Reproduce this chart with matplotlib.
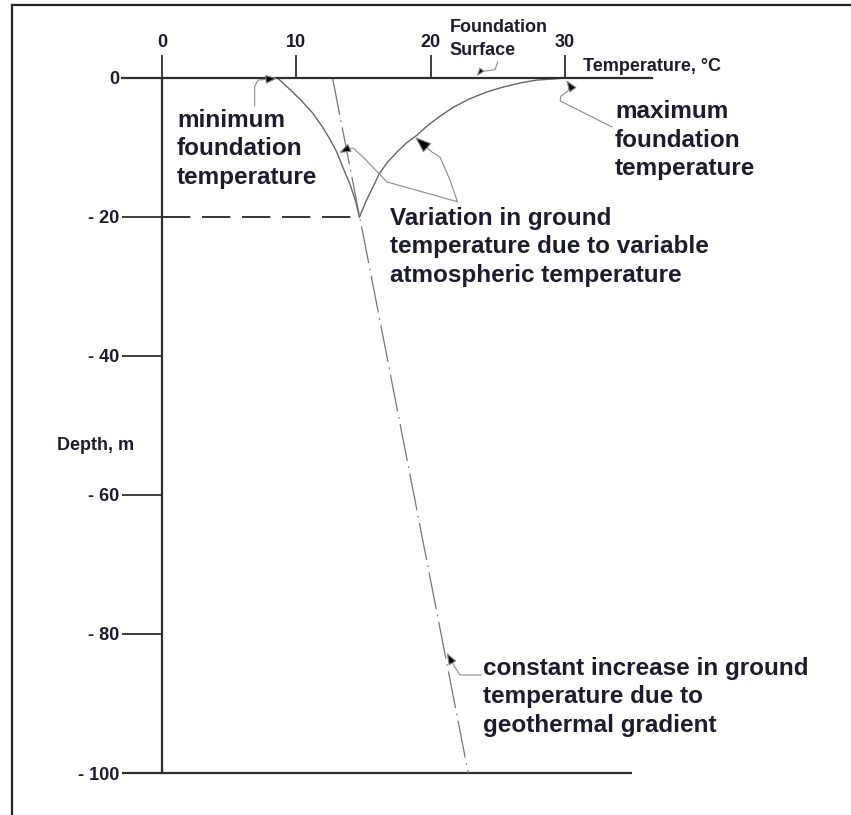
import matplotlib.pyplot as plt
from matplotlib.patches import FancyArrowPatch
from matplotlib.path import Path
from matplotlib.lines import Line2D

plt.rcParams['font.family'] = ['Liberation Sans', 'DejaVu Sans']
plt.rcParams['font.weight'] = 'bold'

# axes ticks
temp_ticks = [0, 10, 20, 30]
depth_ticks = [0, -20, -40, -60, -80, -100]
depth_labels = ['0', '- 20', '- 40', '- 60', '- 80', '- 100']

# minimum foundation temperature envelope (deg C vs depth m)
min_temp = [8.6, 9.5, 10.4, 11.2, 11.9, 12.5, 13.0, 13.5, 14.0, 14.4, 14.7]
min_depth = [0, -1.6, -3.3, -5.0, -6.9, -8.8, -10.6, -13.0, -15.3, -17.6, -20]

# maximum foundation temperature envelope
max_temp = [14.7, 15.2, 15.7, 16.2, 16.8, 17.5, 18.2, 19.0, 19.8, 20.7, 21.7,
            22.9, 24.2, 25.4, 26.7, 27.9, 29.1, 30.0]
max_depth = [-20, -17.7, -15.7, -13.7, -12.1, -10.65, -9.35, -8.2, -6.8, -5.5, -4.2,
             -3.0, -2.0, -1.3, -0.7, -0.3, -0.14, 0]

# geothermal gradient
geo_temp = [12.7, 22.8]
geo_depth = [0, -100]

# depth reached by the seasonal variation
seasonal_depth = -20

TEXT = '#1c1c30'
LINE = '#2e2e2e'
CURVE = '#666666'
LEADER = '#8c8c8c'

W, H = 851, 815
sx, sy = 13.43, 6.95   # pixels per degree / per metre
x0, y0 = 162, 78       # pixel position of the origin

fig = plt.figure(figsize=(W / 100, H / 100), dpi=100)
ax = fig.add_axes([0, 0, 1, 1])
ax.set_xlim(-x0 / sx, (W - x0) / sx)
ax.set_ylim(-(H - y0) / sy, y0 / sy)

ax.spines['bottom'].set_visible(False)
ax.spines['right'].set_visible(False)
ax.spines['top'].set_position(('data', 0))
ax.spines['top'].set_bounds(-3.0, 36.5)
ax.spines['left'].set_position(('data', 0))
ax.spines['left'].set_bounds(-100, 0)
for s in ['top', 'left']:
    ax.spines[s].set_color(LINE)
    ax.spines[s].set_linewidth(1.6)

ax.xaxis.set_ticks_position('top')
ax.set_xticks(temp_ticks)
ax.set_xticklabels([str(t) for t in temp_ticks])
ax.set_yticks(depth_ticks)
ax.set_yticklabels(depth_labels)
ax.tick_params(axis='x', direction='out', length=16.5, width=1.3, color=LINE,
               pad=3, labelsize=13, labelcolor=TEXT)
ax.tick_params(axis='y', direction='out', length=29, width=1.3, color=LINE,
               pad=1.5, labelsize=13, labelcolor=TEXT)

# bottom line at -100 m
ax.plot([-3.0, 35.0], [depth_ticks[-1]] * 2, color=LINE, lw=1.6, solid_capstyle='butt')

# curves
ax.plot(min_temp, min_depth, color=CURVE, lw=1.0)
ax.plot(max_temp, max_depth, color=CURVE, lw=1.0)
ax.plot(geo_temp, geo_depth, color='#777777', lw=0.9, linestyle=(0, (30, 4.5, 1.3, 4.5)))
ax.plot([0, min_temp[-1]], [seasonal_depth] * 2, color='#111111', lw=1.2,
        linestyle=(0, (17, 7)))

# outer frame (top and left only)
fig.add_artist(Line2D([12 / W, 12 / W], [0, 1 - 5 / H], transform=fig.transFigure,
                      color='#222222', lw=1.6))
fig.add_artist(Line2D([12 / W, 1], [1 - 5 / H, 1 - 5 / H], transform=fig.transFigure,
                      color='#222222', lw=1.6))


def leader(pts, scale=9):
    arrow = FancyArrowPatch(path=Path(pts), arrowstyle='-|>,head_length=0.8,head_width=0.3',
                            mutation_scale=scale, ec=LEADER, fc='black', lw=0.8,
                            transform=ax.transData, zorder=3)
    ax.add_patch(arrow)


def block(x, y, lines, step=4.1, size=17.5):
    for i, line in enumerate(lines):
        ax.text(x, y - i * step, line, fontsize=size, color=TEXT,
                ha='left', va='baseline')


block(1.12, -7.05, ['minimum', 'foundation', 'temperature'])
block(33.73, -5.76, ['maximum', 'foundation', 'temperature'])
block(16.98, -21.15, ['Variation in ground', 'temperature due to variable',
                      'atmospheric temperature'])
block(23.9, -85.9, ['constant increase in ground', 'temperature due to',
                    'geothermal gradient'])
block(21.44, 6.62, ['Foundation', 'Surface'], step=3.3, size=13)
ax.text(31.35, 1.0, 'Temperature, °C', fontsize=13, color=TEXT, va='baseline')
ax.text(-7.8, -53.5, 'Depth, m', fontsize=13, color=TEXT, va='baseline')

leader([(6.9, -4.0), (6.9, -1.2), (7.15, -0.3), (8.0, -0.15), (8.6, -0.05)])
leader([(33.5, -7.05), (29.65, -3.3), (29.7, -2.6), (30.2, -1.9), (30.4, -1.15), (30.1, -0.3)])
leader([(25.0, 2.3), (24.8, 1.2), (23.7, 0.9), (23.45, 0.25)], scale=6)
leader([(22.0, -17.8), (16.75, -14.96), (14.97, -11.37), (14.22, -10.07),
        (13.78, -10.22), (13.18, -10.79)])
leader([(22.0, -17.8), (21.44, -14.68), (20.7, -11.37), (20.1, -10.65), (18.84, -8.49)],
       scale=13)
leader([(23.8, -85.9), (22.2, -85.9), (21.8, -84.75), (21.2, -82.7)])

fig.savefig('out.png', dpi=100)
